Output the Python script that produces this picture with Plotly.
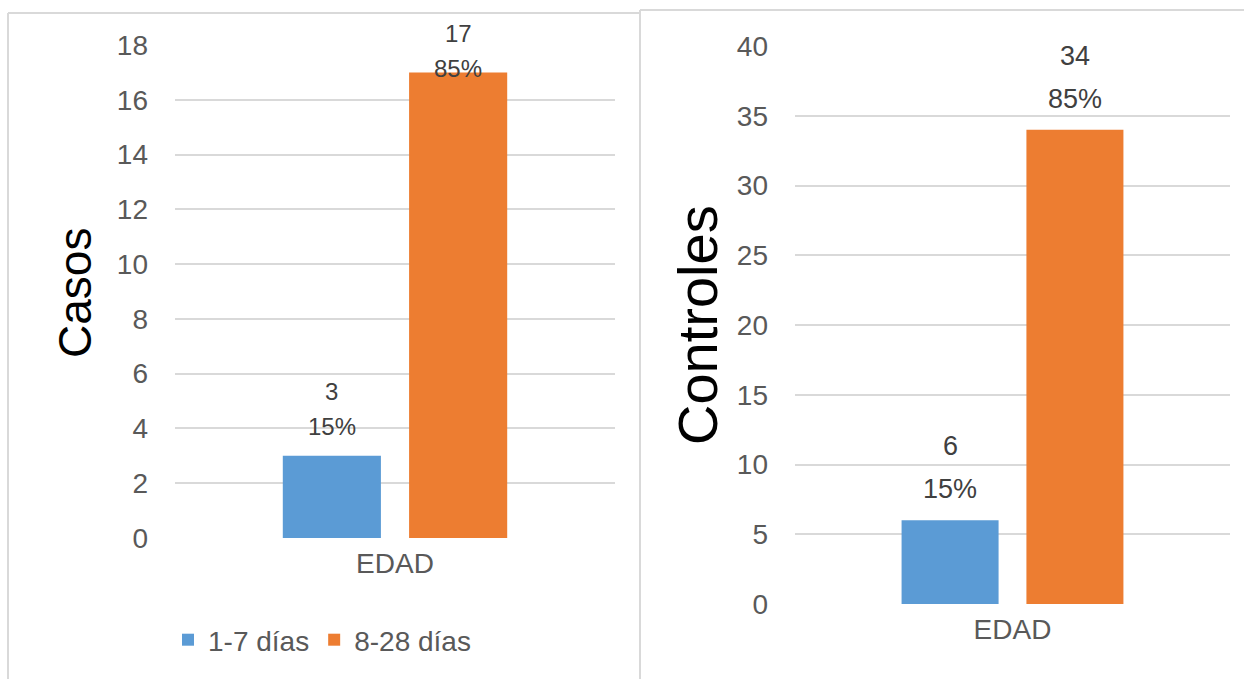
import plotly.graph_objects as go

# ---- data ----
category = ["EDAD"]
series_names = ["1-7 días", "8-28 días"]
casos = [3, 17]
casos_pct = [15, 85]
controles = [6, 34]
controles_pct = [15, 85]
colors = ["#5B9BD5", "#ED7D31"]

W, H = 1244, 679
FONT = "Liberation Sans Narrow, Liberation Sans, Arial, sans-serif"
TICK_COLOR = "#595959"
GRID = "#D9D9D9"
BARGAP, GROUPGAP = 0.426, 0.223

# plot areas in pixels: (x0, x1, y_zero, y_top, y_max)
panels = [
    dict(x0=175, x1=615, yz=538, yt=45, ymax=18, dtick=2, title="Casos",
         tx=75, ty=293, tsize=46, vals=casos, pct=casos_pct, lsize=24, tick=28),
    dict(x0=795, x1=1230, yz=604, yt=46, ymax=40, dtick=5, title="Controles",
         tx=697, ty=325, tsize=56, vals=controles, pct=controles_pct, lsize=27, tick=28),
]


def px(x):
    return x / W


def py(y):
    return 1 - y / H


fig = go.Figure()
annotations = []

for i, p in enumerate(panels):
    xa = "x" if i == 0 else "x2"
    ya = "y" if i == 0 else "y2"
    for j, name in enumerate(series_names):
        fig.add_trace(go.Bar(
            x=category, y=[p["vals"][j]], name=name,
            marker=dict(color=colors[j], line=dict(width=0)),
            xaxis=xa, yaxis=ya, showlegend=(i == 0),
            hoverinfo="skip",
        ))

    # value labels: count over percentage, kept inside the panel
    scale = (p["yz"] - p["yt"]) / p["ymax"]
    slot = (1 - BARGAP) * (p["x1"] - p["x0"]) / len(series_names)
    ceiling = 33
    for j in range(len(series_names)):
        v = p["vals"][j]
        bar_top = p["yz"] - v * scale
        up_count = 64 if i == 0 else 74
        up_pct = 29 if i == 0 else 31
        shift = max(0, ceiling - (bar_top - up_count))
        xs = (j - (len(series_names) - 1) / 2) * slot
        for txt, up in ((str(v), up_count), (f"{p['pct'][j]}%", up_pct)):
            annotations.append(dict(
                x=category[0], y=v, xref=xa, yref=ya,
                xshift=xs, yshift=up - shift,
                yanchor="middle", xanchor="center", showarrow=False,
                text=txt, font=dict(family=FONT, size=p["lsize"], color="#404040"),
            ))

    annotations.append(dict(
        x=px(p["tx"]), y=py(p["ty"]), xref="paper", yref="paper",
        text=p["title"], textangle=-90, showarrow=False,
        xanchor="center", yanchor="middle",
        font=dict(family=FONT, size=p["tsize"], color="#000000"),
    ))

    xkey = "xaxis" if i == 0 else "xaxis2"
    ykey = "yaxis" if i == 0 else "yaxis2"
    fig.layout[xkey] = dict(
        domain=[px(p["x0"]), px(p["x1"])], anchor=ya,
        showgrid=False, showline=False, zeroline=False, ticks="",
        tickfont=dict(family=FONT, size=p["tick"], color=TICK_COLOR),
        ticklabelstandoff=6, fixedrange=True,
    )
    fig.layout[ykey] = dict(
        domain=[py(p["yz"]), py(p["yt"])], anchor=xa,
        range=[0, p["ymax"]], dtick=p["dtick"], tick0=0,
        showgrid=True, gridcolor=GRID, gridwidth=1.5,
        showline=False, zeroline=False, ticks="",
        tickfont=dict(family=FONT, size=p["tick"], color=TICK_COLOR),
        ticklabelstandoff=26, fixedrange=True,
    )

# panel frames
line = dict(color=GRID, width=2)
shapes = [
    dict(type="line", xref="paper", yref="paper", x0=px(8), x1=px(8), y0=py(13), y1=py(H), line=line),
    dict(type="line", xref="paper", yref="paper", x0=px(8), x1=px(640), y0=py(13), y1=py(13), line=line),
    dict(type="line", xref="paper", yref="paper", x0=px(640), x1=px(640), y0=py(10), y1=py(H), line=line),
    dict(type="line", xref="paper", yref="paper", x0=px(640), x1=px(W), y0=py(10), y1=py(10), line=line),
]

fig.update_layout(
    width=W, height=H,
    margin=dict(l=0, r=0, t=0, b=0, autoexpand=False),
    paper_bgcolor="white", plot_bgcolor="white",
    barmode="group", bargap=BARGAP, bargroupgap=GROUPGAP,
    annotations=annotations, shapes=shapes,
    legend=dict(
        orientation="h", x=px(168), y=py(640), xanchor="left", yanchor="middle",
        font=dict(family=FONT, size=28, color=TICK_COLOR),
        itemwidth=30, tracegroupgap=0, bgcolor="rgba(0,0,0,0)",
    ),
    font=dict(family=FONT),
)

fig.write_html("out.html")
